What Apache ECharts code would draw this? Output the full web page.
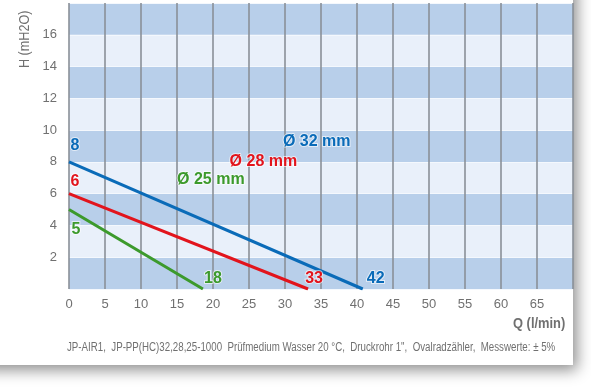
<!DOCTYPE html>
<html>
<head>
<meta charset="utf-8">
<script src="https://cdn.jsdelivr.net/npm/echarts@6/dist/echarts.min.js"></script>
<style>html,body{margin:0;padding:0;background:#fff;}#c{width:591px;height:390px;}</style>
</head>
<body>
<div id="c"></div>
<script>
// ---- data ----
const seriesNames = ['Ø 32 mm', 'Ø 28 mm', 'Ø 25 mm'];
const startH = [8, 6, 5];          // head at Q = 0 (mH2O)
const endQ = [40.8, 33.2, 18.6];   // flow at H = 0 (l/min)
const startLabels = ['8', '6', '5'];
const endLabels = ['42', '33', '18'];
const seriesColors = ['#0a6bb8', '#e2141c', '#3c9a2c'];
const nameAnchorQ = [34.4, 27.0, 19.7];
const nameAnchorH = [9.25, 8.05, 6.9];
const xTicks = [0,5,10,15,20,25,30,35,40,45,50,55,60,65];
const yTicks = [2,4,6,8,10,12,14,16];
const footnote = 'JP-AIR1,  JP-PP(HC)32,28,25-1000  Prüfmedium Wasser 20 °C,  Druckrohr 1",  Ovalradzähler,  Messwerte: ± 5%';

const font = '"Liberation Sans",Arial,sans-serif';
const startOffsets = [[6,-16],[6,-12],[7,20]];
const endOffsets = [[13,-10],[6,-10],[10,-10]];

const chart = echarts.init(document.getElementById('c'), null, {renderer:'canvas'});

const lab = (color) => ({show: true, position: 'inside', color: color, fontSize: 16, fontWeight: 'bold', fontFamily: font,
  textBorderColor: 'rgba(255,255,255,0.6)', textBorderWidth: 2});

const series = [];
seriesNames.forEach((n, i) => {
  series.push({
    type: 'line',
    name: n,
    data: [[0, startH[i]], [endQ[i], 0]],
    symbol: 'none',
    lineStyle: {color: seriesColors[i], width: 3},
    z: 5
  });
  series.push({
    type: 'scatter',
    symbolSize: 1,
    itemStyle: {color: 'rgba(0,0,0,0)', opacity: 1},
    silent: true,
    z: 6,
    data: [
      {value: [0, startH[i]], label: Object.assign(lab(seriesColors[i]), {formatter: startLabels[i], offset: startOffsets[i]})},
      {value: [endQ[i], 0], label: Object.assign(lab(seriesColors[i]), {formatter: endLabels[i], offset: endOffsets[i]})},
      {value: [nameAnchorQ[i], nameAnchorH[i]], label: Object.assign(lab(seriesColors[i]), {formatter: n})}
    ]
  });
});

chart.setOption({
  animation: false,
  backgroundColor: '#ffffff',
  grid: {left: 69, right: 18, top: 3, bottom: 101, containLabel: false},
  xAxis: {
    type: 'value', min: 0, max: 70, interval: 5,
    axisLine: {show: false}, axisTick: {show: false},
    axisLabel: {color: '#707070', fontSize: 13, fontFamily: font, margin: 9,
      formatter: v => xTicks.includes(v) ? String(v) : ''},
    splitLine: {show: true, lineStyle: {color: '#8a9098', width: 1.6}},
  },
  yAxis: {
    type: 'value', min: 0, max: 18, interval: 2,
    axisLine: {show: false}, axisTick: {show: false},
    axisLabel: {color: '#707070', fontSize: 13, fontFamily: font, margin: 12,
      formatter: v => yTicks.includes(v) ? String(v) : ''},
    splitLine: {show: true, lineStyle: {color: '#f4f8fd', width: 1}},
    splitArea: {show: true, areaStyle: {color: ['#b8cfea', '#e9f0fa']}}
  },
  graphic: [
    {type: 'rect', z: -10, silent: true, shape: {x: -20, y: -20, width: 593, height: 385},
     style: {fill: '#ffffff', shadowBlur: 14, shadowOffsetX: 4, shadowOffsetY: 5, shadowColor: 'rgba(0,0,0,0.45)'}},
    {type: 'text', x: 18, y: 68, rotation: Math.PI/2, scaleX: 0.9, silent: true,
     style: {text: 'H (mH2O)', fill: '#707070', font: '14px ' + font}},
    {type: 'text', x: 513, y: 317, scaleX: 0.92, silent: true,
     style: {text: 'Q (l/min)', fill: '#707070', font: 'bold 14px ' + font}},
    {type: 'text', x: 67, y: 342, scaleX: 0.81, silent: true,
     style: {text: footnote, fill: '#707070', font: '12px ' + font}}
  ],
  series: series
});
</script>
</body>
</html>
